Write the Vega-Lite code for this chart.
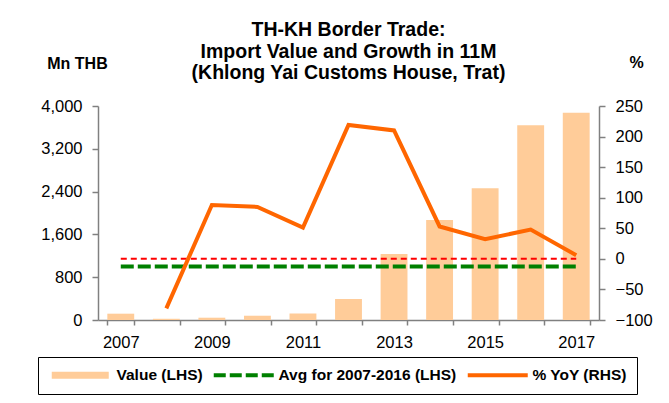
{
  "$schema": "https://vega.github.io/schema/vega-lite/v6.json",
  "width": 501,
  "height": 214,
  "autosize": {"type": "none"},
  "padding": {"left": 98, "top": 106, "right": 70, "bottom": 83},
  "background": "white",
  "config": {
    "font": "Liberation Sans",
    "view": {"stroke": null},
    "axis": {
      "domainColor": "#808080",
      "tickColor": "#808080",
      "domainWidth": 1.5,
      "tickWidth": 1.5,
      "labelFont": "Liberation Sans",
      "labelFontSize": 16.5,
      "labelColor": "#000000",
      "labelOverlap": false,
      "grid": false,
      "titleFont": "Liberation Sans",
      "titleFontSize": 16,
      "titleFontWeight": "bold",
      "titleColor": "#000000"
    }
  },
  "title": {
    "text": ["TH-KH Border Trade:", "Import Value and Growth in 11M", "(Khlong Yai Customs House, Trat)"],
    "fontSize": 19.5,
    "fontWeight": "bold",
    "font": "Liberation Sans",
    "anchor": "middle",
    "frame": "group",
    "lineHeight": 21.7,
    "offset": -30,
    "color": "#000000"
  },
  "datasets": {
    "trade": [
      {"year": "2007", "value": 118, "yoy": null},
      {"year": "2008", "value": 23, "yoy": -81},
      {"year": "2009", "value": 43, "yoy": 88},
      {"year": "2010", "value": 80, "yoy": 85},
      {"year": "2011", "value": 122, "yoy": 51},
      {"year": "2012", "value": 393, "yoy": 219},
      {"year": "2013", "value": 1234, "yoy": 210},
      {"year": "2014", "value": 1869, "yoy": 53},
      {"year": "2015", "value": 2461, "yoy": 32},
      {"year": "2016", "value": 3639, "yoy": 48},
      {"year": "2017", "value": 3875, "yoy": 6}
    ],
    "avg": [
      {"year": "2007", "value": 998},
      {"year": "2017", "value": 998}
    ],
    "zero": [
      {"year": "2007", "yoy": 0},
      {"year": "2017", "yoy": 0}
    ]
  },
  "encoding": {
    "x": {
      "field": "year",
      "type": "ordinal",
      "scale": {"paddingInner": 0.41, "paddingOuter": 0.205},
      "axis": {
        "title": null,
        "tickBand": "extent",
        "tickSize": 5,
        "labelAngle": 0,
        "labelPadding": 9,
        "labelExpr": "(+datum.value) % 2 == 1 ? datum.label : ''"
      }
    }
  },
  "layer": [
    {
      "encoding": {
        "y": {
          "field": "value",
          "type": "quantitative",
          "scale": {"domain": [0, 4000], "nice": false, "zero": true},
          "axis": {
            "values": [0, 800, 1600, 2400, 3200, 4000],
            "format": ",.0f",
            "labelOverlap": false,
            "tickSize": 6,
            "labelPadding": 10,
            "title": "Mn THB",
            "titleAngle": 0,
            "titleX": -21,
            "titleY": -38,
            "titleAlign": "center",
            "titleBaseline": "alphabetic"
          }
        }
      },
      "layer": [
        {
          "data": {"name": "trade"},
          "mark": {"type": "bar"},
          "encoding": {
            "color": {
              "datum": "Value (LHS)",
              "type": "nominal",
              "scale": {
                "domain": ["Value (LHS)", "Avg for 2007-2016 (LHS)", "% YoY (RHS)"],
                "range": ["#FFCC99", "#008000", "#FF6600"]
              },
              "legend": {
                "orient": "none",
                "legendX": -60,
                "legendY": 251,
                "direction": "horizontal",
                "title": null,
                "strokeColor": "#000000",
                "fillColor": "#FFFFFF",
                "padding": 10,
                "labelFont": "Liberation Sans",
                "labelFontSize": 15.5,
                "labelFontWeight": "bold",
                "labelColor": "#000000",
                "labelLimit": 400,
                "symbolSize": 64,
                "symbolStrokeWidth": 4,
                "columnPadding": 2,
                "labelOffset": 53,
                "encode": {
                  "symbols": {
                    "update": {
                      "shape": {"signal": "datum.value === 'Value (LHS)' ? 'M-1,-0.875L13.25,-0.875L13.25,0.875L-1,0.875Z' : 'M-1,0L14,0'"},
                      "fill": {"signal": "datum.value === 'Value (LHS)' ? '#FFCC99' : 'transparent'"},
                      "stroke": {"signal": "datum.value === 'Value (LHS)' ? 'transparent' : (datum.value === '% YoY (RHS)' ? '#FF6600' : '#008000')"},
                      "strokeDash": {"signal": "datum.value === 'Avg for 2007-2016 (LHS)' ? [12, 4] : [1, 0]"},
                      "strokeWidth": {"signal": "datum.value === 'Value (LHS)' ? 0 : 4"},
                      "opacity": {"value": 1}
                    }
                  }
                }
              }
            }
          }
        },
        {
          "data": {"name": "avg"},
          "mark": {"type": "line", "strokeWidth": 4, "strokeDash": [13, 4]},
          "encoding": {
            "color": {"datum": "Avg for 2007-2016 (LHS)", "type": "nominal"}
          }
        }
      ]
    },
    {
      "encoding": {
        "y": {
          "field": "yoy",
          "type": "quantitative",
          "scale": {"domain": [-100, 250], "nice": false, "zero": false},
          "axis": {
            "orient": "right",
            "values": [-100, -50, 0, 50, 100, 150, 200, 250],
            "labelOverlap": false,
            "tickSize": 6,
            "labelPadding": 10,
            "title": "%",
            "titleAngle": 0,
            "titleX": 37,
            "titleY": -39,
            "titleAlign": "center",
            "titleBaseline": "alphabetic"
          }
        }
      },
      "layer": [
        {
          "data": {"name": "zero"},
          "mark": {"type": "line", "strokeWidth": 2, "strokeDash": [6, 4], "color": "#FF0000"},
          "encoding": {}
        },
        {
          "data": {"name": "trade"},
          "mark": {"type": "line", "strokeWidth": 4},
          "encoding": {
            "color": {"datum": "% YoY (RHS)", "type": "nominal"}
          }
        }
      ]
    }
  ],
  "resolve": {"scale": {"y": "independent"}}
}
